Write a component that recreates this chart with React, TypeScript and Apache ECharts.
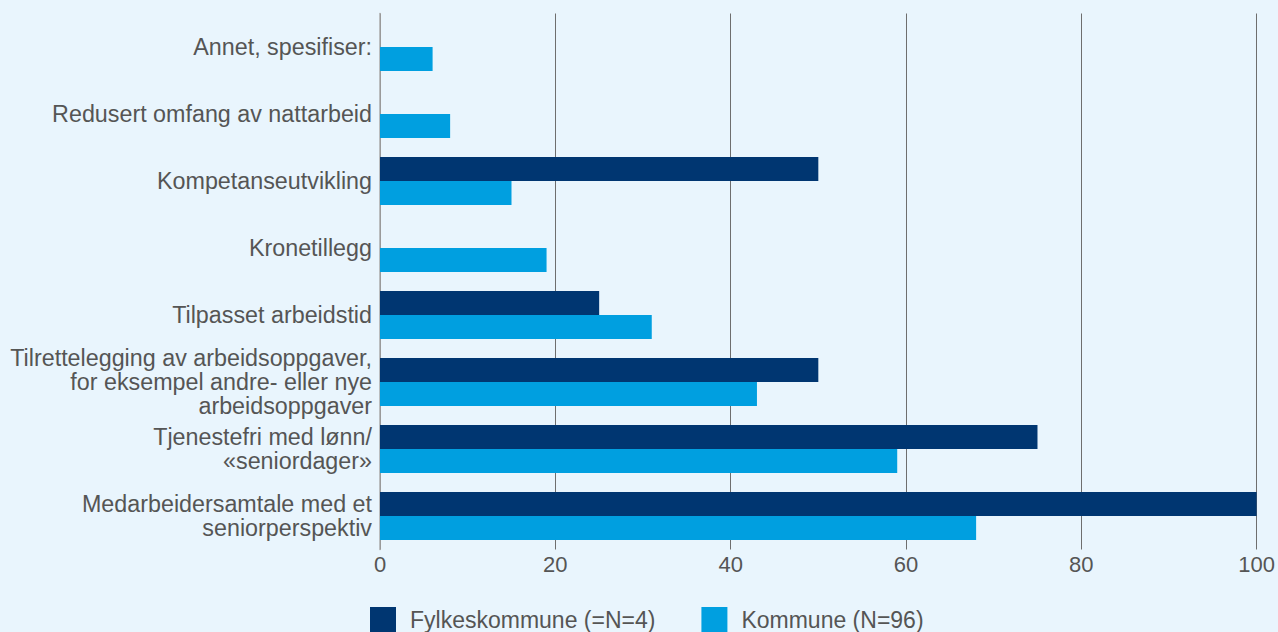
import React, { useEffect, useRef } from "react";
import * as echarts from "echarts";

const categories = [
  "Annet, spesifiser:",
  "Redusert omfang av nattarbeid",
  "Kompetanseutvikling",
  "Kronetillegg",
  "Tilpasset arbeidstid",
  "Tilrettelegging av arbeidsoppgaver,\nfor eksempel andre- eller nye\narbeidsoppgaver",
  "Tjenestefri med lønn/\n«seniordager»",
  "Medarbeidersamtale med et\nseniorperspektiv",
];
const fylkeValues = [0, 0, 50, 0, 25, 50, 75, 100];
const kommuneValues = [6, 8, 15, 19, 31, 43, 59, 68];
const seriesNames = ["Fylkeskommune (=N=4)", "Kommune (N=96)"];
const xTicks = [0, 20, 40, 60, 80, 100];

export default function App() {
  const ref = useRef<HTMLDivElement>(null);
  useEffect(() => {
    if (!ref.current) return;
    const chart = echarts.init(ref.current, null, { renderer: "svg" });
    const font = "'Liberation Sans', Arial, Helvetica, sans-serif";
    chart.setOption({
      animation: false,
      backgroundColor: "#E9F5FD",
      textStyle: { fontFamily: font },
      grid: { left: 380, right: 21, top: 13.5, bottom: 82.5, containLabel: false },
      legend: {
        data: seriesNames,
        left: 370,
        top: 607,
        padding: 0,
        itemWidth: 26,
        itemHeight: 26,
        itemGap: 46,
        icon: "rect",
        textStyle: { fontSize: 23, color: "#555", fontFamily: font, padding: [0, 0, 0, 9] },
      },
      xAxis: {
        type: "value",
        min: xTicks[0],
        max: xTicks[xTicks.length - 1],
        interval: 20,
        axisLine: { show: false },
        axisTick: { show: false },
        axisLabel: { fontSize: 22, color: "#555", margin: 4, fontFamily: font },
        splitLine: { show: true, lineStyle: { color: "#6e6e6e", width: 1 } },
      },
      yAxis: {
        type: "category",
        data: categories,
        inverse: true,
        axisLine: { show: true, lineStyle: { color: "#aaaaaa", width: 1.5 } },
        axisTick: { show: false },
        axisLabel: {
          fontSize: 23.3,
          color: "#555",
          margin: 8,
          lineHeight: 24,
          fontFamily: font,
        },
      },
      series: [
        {
          name: seriesNames[0],
          type: "bar",
          data: fylkeValues,
          barGap: "0%",
          barCategoryGap: "28%",
          itemStyle: { color: "#003671" },
        },
        {
          name: seriesNames[1],
          type: "bar",
          data: kommuneValues,
          barGap: "0%",
          barCategoryGap: "28%",
          itemStyle: { color: "#009FE0" },
        },
      ],
    });
    return () => chart.dispose();
  }, []);
  return (
    <div
      ref={ref}
      style={{ position: "absolute", left: 0, top: 0, width: 1278, height: 632 }}
    />
  );
}
